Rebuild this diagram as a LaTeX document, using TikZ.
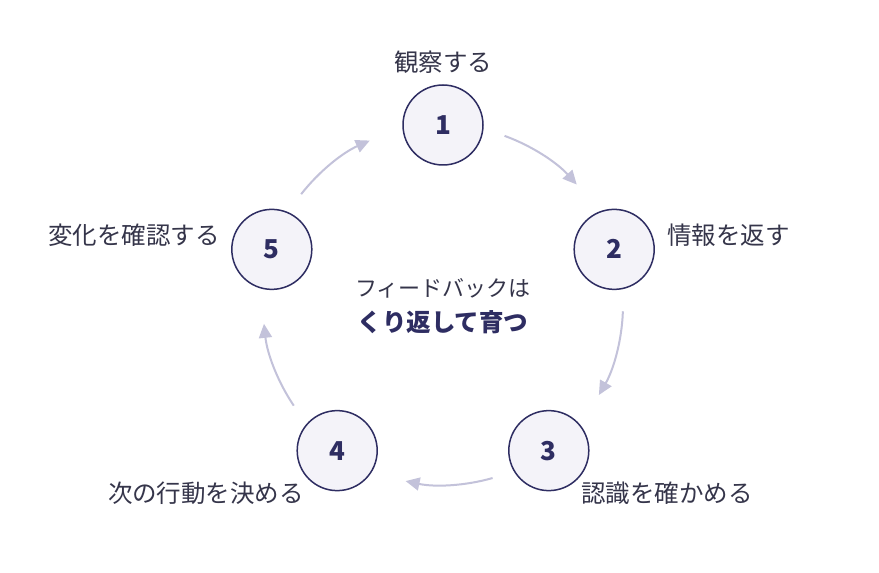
\documentclass[tikz,border=0pt]{standalone}
\usepackage{fontspec}
\setmainfont{Noto Sans CJK JP}
\usetikzlibrary{arrows.meta}
\definecolor{navy}{HTML}{2E2D62}
\definecolor{stepfill}{HTML}{F4F3F9}
\definecolor{labelgray}{HTML}{35354A}
\definecolor{arrowgray}{HTML}{C3C2DA}

\begin{document}
\begin{tikzpicture}[x=1pt, y=1pt,
    stepnode/.style={circle, draw=navy, line width=1.5pt, fill=stepfill, minimum size=80pt, inner sep=0pt,
      font=\fontsize{26}{30}\selectfont\bfseries, text=navy},
    steplabel/.style={font=\fontsize{24.5}{29}\selectfont, text=labelgray, inner sep=0pt},
    cyclearrow/.style={draw=arrowgray, line width=2pt, -{Triangle[length=14pt, width=13pt]}}]
    % Canvas
    \fill[white] (0,0) rectangle (879,573);
    \useasboundingbox (0,0) rectangle (879,573);
    \coordinate (c) at (443,268);

    % Steps on the cycle
    \foreach \i/\a in {1/90, 2/18, 3/-54, 4/-126, 5/162}
        \node[stepnode] (s\i) at ([shift={(\a:180)}]c) {\i};

    % Arrows between the steps
    \foreach \a in {90, 18, -54, -126, 162}
        \draw[cyclearrow] ([shift={(\a-20:180)}]c) arc[start angle=\a-20, end angle=\a-48, radius=180];

    % Step labels
    \node[steplabel] (l1) at ([yshift=63]s1) {観察する};
    \node[steplabel, anchor=west] (l2) at ([xshift=53, yshift=14]s2) {情報を返す};
    \node[steplabel, anchor=west] (l3) at ([xshift=32, yshift=-43]s3) {認識を確かめる};
    \node[steplabel, anchor=east] (l4) at ([xshift=-33, yshift=-43]s4) {次の行動を決める};
    \node[steplabel, anchor=east] (l5) at ([xshift=-52, yshift=14]s5) {変化を確認する};

    % Center text
    \node[font=\fontsize{22}{26}\selectfont, text=labelgray] (t1) at (443,285) {フィードバックは};
    \node[font=\fontsize{24.5}{29}\selectfont\bfseries, text=navy] (t2) at (443,251) {くり返して育つ};
\end{tikzpicture}
\end{document}
